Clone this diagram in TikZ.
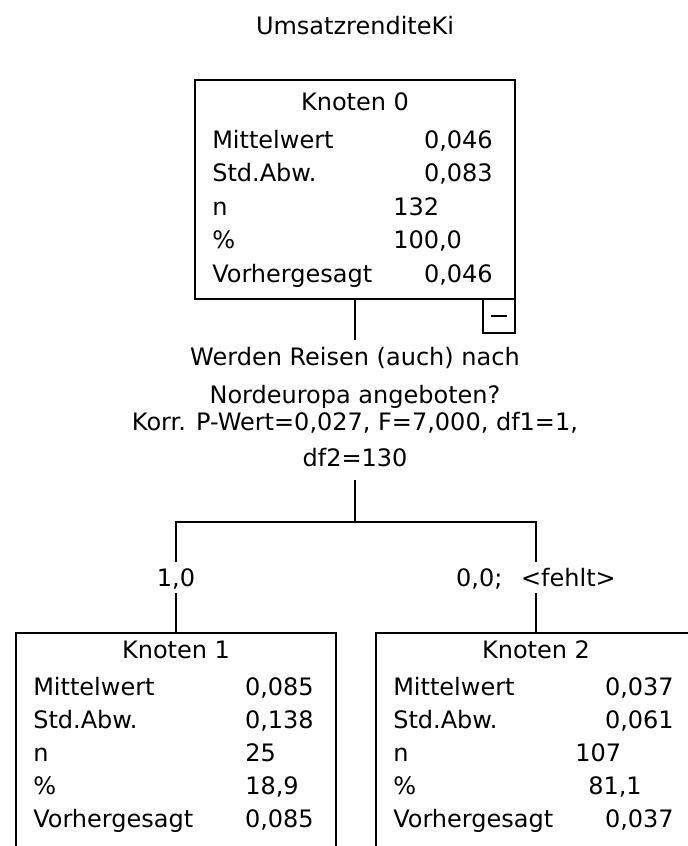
\documentclass[tikz,border=0pt]{standalone}
\usepackage{fontspec}
\setmainfont{DejaVu Sans}

\tikzset{
  knoten/.style={draw, line width=1.5pt, minimum width=240pt, minimum height=164.25pt, inner sep=0pt, outer sep=0pt},
  minusbox/.style={draw, line width=1.5pt, minimum width=24pt, minimum height=25.5pt, inner sep=0pt, outer sep=0pt, anchor=north east},
  kopf/.style={inner sep=0pt, anchor=base},
  zeile/.style={inner sep=0pt, anchor=base west},
  wert/.style={inner sep=0pt, anchor=base east},
  frage/.style={text height=13pt, text depth=4pt, inner ysep=6pt, inner xsep=0pt, anchor=base},
  astlabel/.style={text height=13pt, text depth=0pt, inner ysep=5pt, inner xsep=0pt, anchor=base},
  ast/.style={line width=1.5pt},
}

\begin{document}
\begin{tikzpicture}[x=0.75pt,y=-0.75pt,font=\fontsize{18}{21}\selectfont]
\useasboundingbox (0,0) rectangle (688,846);
\clip (0,0) rectangle (688,846);

\node[kopf] (titel) at (355,34) {UmsatzrenditeKi};

% Knoten 0
\node[knoten] (k0) at (355,189.5) {};
\node[minusbox] (k0minus) at (k0.south east) {\rule{12pt}{1.5pt}};
\node[kopf] (k0kopf) at (355,110.5) {Knoten 0};
\foreach \lab [count=\i] in {Mittelwert,Std.Abw.,n,\%,Vorhergesagt}
  \node[zeile] (k0l\i) at (212,{114.5+33.6*\i}) {\lab};
\node[wert] (k0w1) at (493,148.1) {0,046};
\node[wert] (k0w2) at (493,181.7) {0,083};
\node[zeile] (k0w3) at (393,215.3) {132};
\node[zeile] (k0w4) at (393,248.9) {100,0};
\node[wert] (k0w5) at (493,282.5) {0,046};

% Split
\node[frage] (frage1) at (355,365.5) {Werden Reisen (auch) nach};
\node[frage] (frage2) at (355,403.5) {Nordeuropa angeboten?};
\node[frage] (frage3) at (355,430.5) {Korr. P-Wert=0,027, F=7,000, df1=1,};
\node[frage] (frage4) at (355,466.5) {df2=130};
\coordinate (gabel) at (355,522);

\node[astlabel] (ast1) at (176,586.5) {1,0};
\node[astlabel] (ast2) at (536,586.5) {0,0;\hspace{14pt}<fehlt>};

% Knoten 1
\node[knoten] (k1) at (176,742.5) {};
\node[kopf] (k1kopf) at (176,658.5) {Knoten 1};
\foreach \lab [count=\i] in {Mittelwert,Std.Abw.,n,\%,Vorhergesagt}
  \node[zeile] (k1l\i) at (33,{662.5+33*\i}) {\lab};
\node[wert] (k1w1) at (314,695.5) {0,085};
\node[wert] (k1w2) at (314,728.5) {0,138};
\node[zeile] (k1w3) at (245,761.5) {25};
\node[zeile] (k1w4) at (245,794.5) {18,9};
\node[wert] (k1w5) at (314,827.5) {0,085};

% Knoten 2
\node[knoten] (k2) at (536,742.5) {};
\node[kopf] (k2kopf) at (536,658.5) {Knoten 2};
\foreach \lab [count=\i] in {Mittelwert,Std.Abw.,n,\%,Vorhergesagt}
  \node[zeile] (k2l\i) at (393,{662.5+33*\i}) {\lab};
\node[wert] (k2w1) at (674,695.5) {0,037};
\node[wert] (k2w2) at (674,728.5) {0,061};
\node[zeile] (k2w3) at (575,761.5) {107};
\node[zeile] (k2w4) at (588,794.5) {81,1};
\node[wert] (k2w5) at (674,827.5) {0,037};

% Verbindungen
\draw[ast] (k0) -- (frage1);
\draw[ast] (frage4) -- (gabel);
\draw[ast] (ast1) |- (gabel) -| (ast2);
\draw[ast] (ast1) -- (k1);
\draw[ast] (ast2) -- (k2);
\end{tikzpicture}
\end{document}
